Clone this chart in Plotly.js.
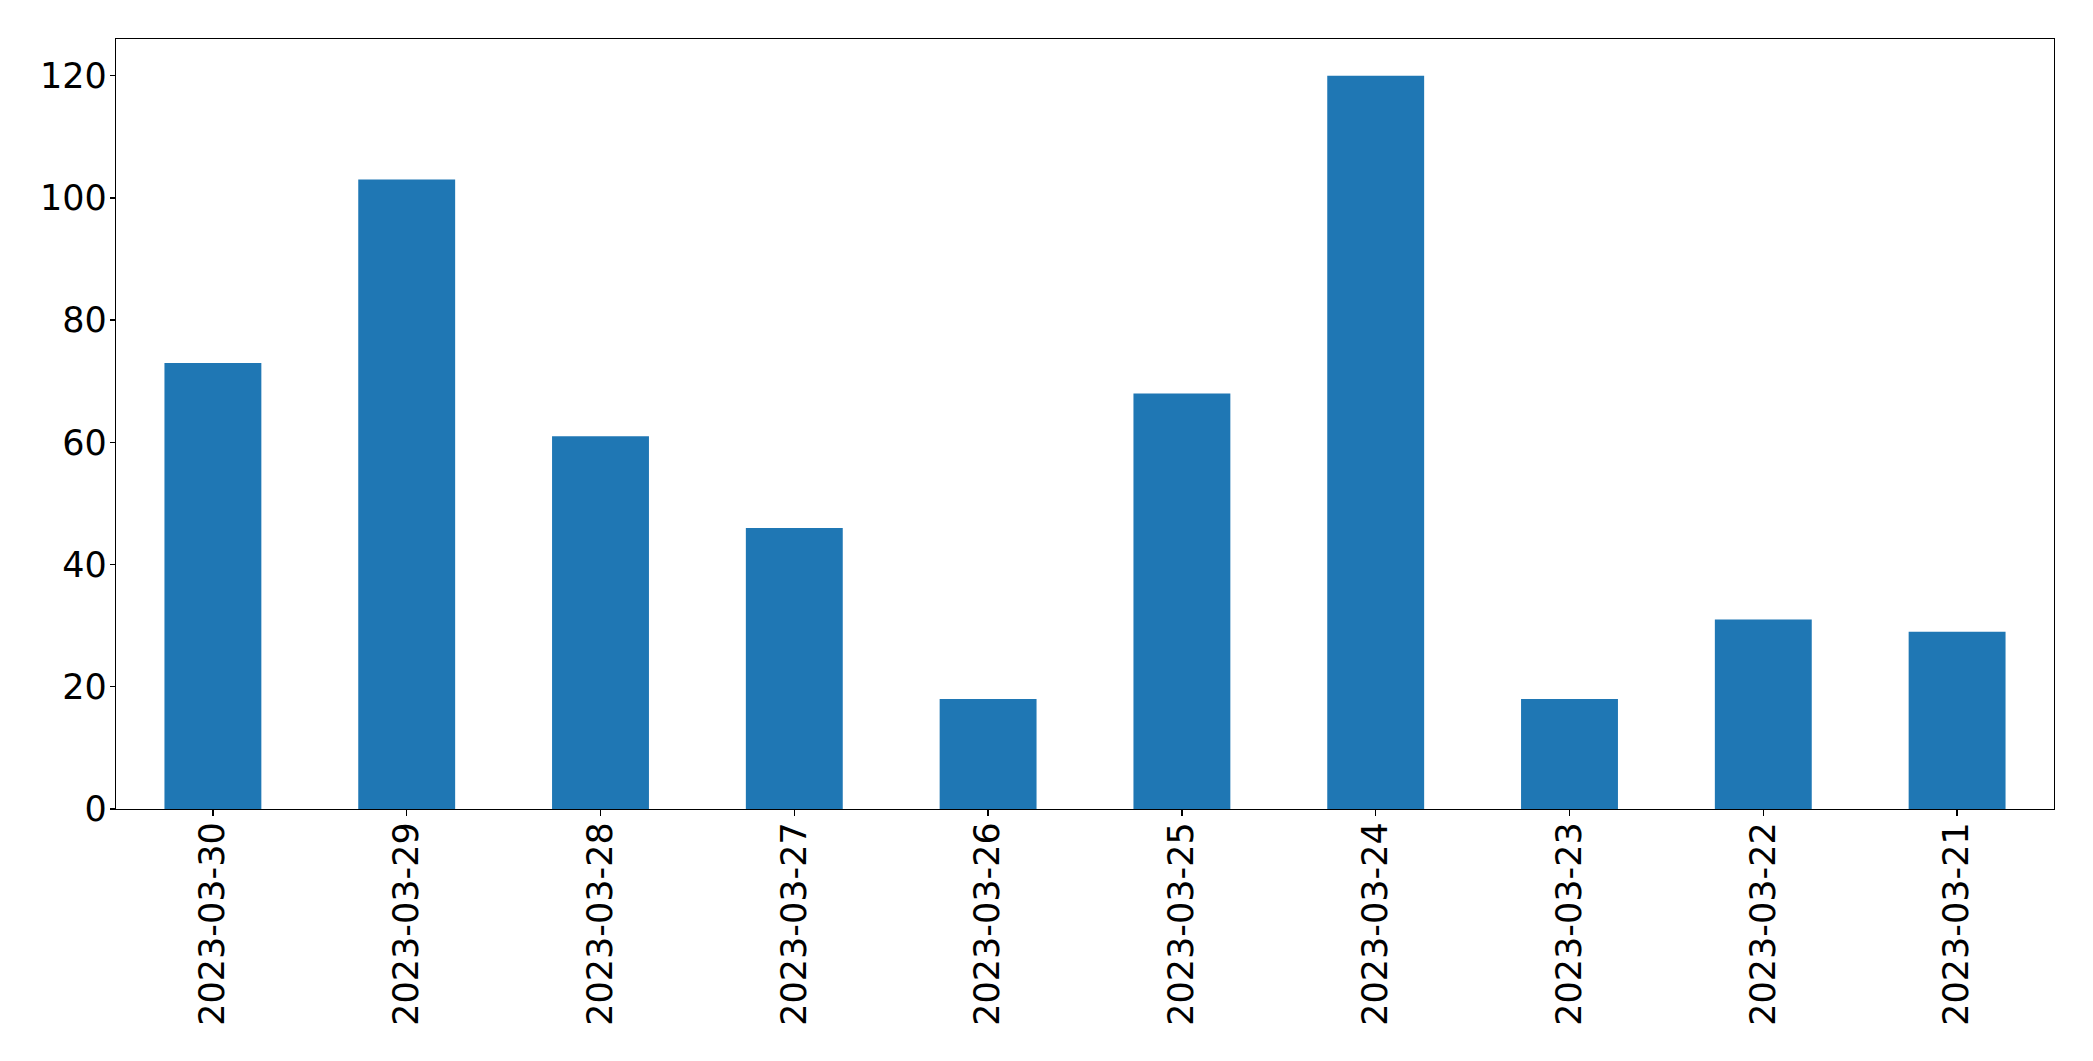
<!DOCTYPE html>
<html>
<head>
<meta charset="utf-8">
<script src="https://cdn.plot.ly/plotly-3.0.1.min.js"></script>
<style>html,body{margin:0;padding:0;background:#fff;}</style>
</head>
<body>
<div id="chart" style="width:2093px;height:1061px;"></div>
<script>
const categories = ["2023-03-30","2023-03-29","2023-03-28","2023-03-27","2023-03-26","2023-03-25","2023-03-24","2023-03-23","2023-03-22","2023-03-21"];
const counts = [73, 103, 61, 46, 18, 68, 120, 18, 31, 29];
const yTicks = [0, 20, 40, 60, 80, 100, 120];

const trace = {
  type: 'bar',
  x: categories,
  y: counts,
  marker: {color: '#1f77b4', line: {width: 0}},
  hoverinfo: 'x+y'
};

const font = {family: 'DejaVu Sans, sans-serif', size: 35, color: '#000'};

const layout = {
  width: 2093,
  height: 1061,
  margin: {l: 116, r: 39, t: 39, b: 252, pad: 0},
  paper_bgcolor: '#fff',
  plot_bgcolor: '#fff',
  bargap: 0.5,
  showlegend: false,
  font: font,
  xaxis: {
    type: 'category',
    range: [-0.5, categories.length - 0.5],
    tickangle: -90,
    ticks: 'outside',
    ticklen: 6,
    tickwidth: 1.3,
    tickcolor: '#000',
    ticklabelstandoff: -8,
    showline: true,
    linecolor: '#000',
    linewidth: 1.3,
    mirror: true,
    showgrid: false,
    zeroline: false,
    tickfont: font
  },
  yaxis: {
    range: [0, 126],
    tickmode: 'array',
    tickvals: yTicks,
    ticktext: yTicks.map(String),
    ticks: 'outside',
    ticklen: 5,
    tickwidth: 1.3,
    tickcolor: '#000',
    ticklabelstandoff: -4,
    showline: true,
    linecolor: '#000',
    linewidth: 1.3,
    mirror: true,
    showgrid: false,
    zeroline: false,
    tickfont: font
  }
};

Plotly.newPlot('chart', [trace], layout, {displayModeBar: false, staticPlot: true});
</script>
</body>
</html>
